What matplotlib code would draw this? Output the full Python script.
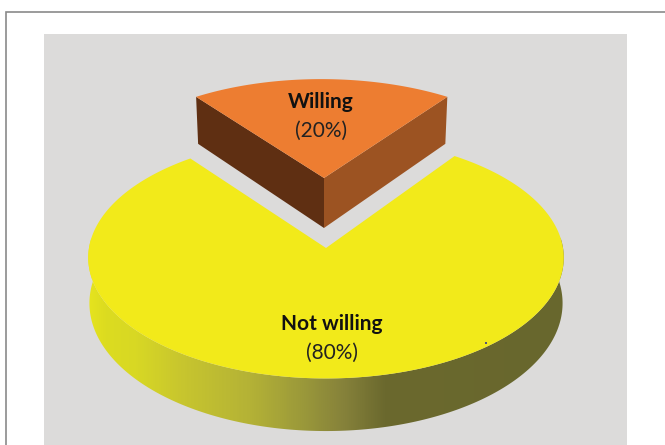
import numpy as np
import matplotlib
matplotlib.use('Agg')
import matplotlib.pyplot as plt
from matplotlib.colors import LinearSegmentedColormap
from matplotlib.patches import Polygon, Rectangle

labels = ['Willing', 'Not willing']
shares = [20, 80]

# the picture is laid out in pixels, y pointing down
cx, cy = 326, 248
A, B, k = 237, 120, 0.08
depth = 45
B_low = 127
# the small slice is pulled back and looks a bit smaller
pull_x, pull_y = -2, -70
scale_x, scale_y = 0.96, 0.89
shear = 0.025

yellow = '#f2ea1a'
orange = '#ed7d31'
dark_brown = '#5f2f12'
mid_brown = '#9c5322'
panel = '#dcdbda'
border = '#8a8a8a'

wall_x = [88, 105, 135, 180, 250, 300, 345, 385, 565]
wall_c = ['#e6e41e', '#dcdc20', '#d8d824', '#c8c62e', '#b4b236', '#9c9a3a', '#85813a', '#6b692e', '#68672d']


def project(t, b=B, dy=0.0, r=1.0):
    t = np.radians(t)
    u, v = r * np.sin(t), r * np.cos(t)
    w = 1 + k * v
    return cx + A * u / w, cy + dy - b * v / w


def small(x, y):
    return cx + pull_x + (x - cx) * scale_x + (y - cy) * shear, cy + pull_y + (y - cy) * scale_y


half = 360 * shares[0] / sum(shares) / 2

fig = plt.figure(figsize=(6.65, 4.45), dpi=100)
ax = fig.add_axes([0, 0, 1, 1])
ax.set_xlim(0, 665)
ax.set_ylim(445, 0)
ax.axis('off')

ax.plot([6, 6, 665], [445, 12, 12], color=border, lw=1.2, solid_joinstyle='miter')
ax.add_patch(Rectangle((44, 34), 583, 420, fc=panel, ec='none'))

# big slice, side wall with the gradient
arc = np.linspace(85, 275, 200)
tx, ty = project(arc)
bx, by = project(arc, b=B_low, dy=depth)
bx = cx + (bx - cx) * 0.995
wall = Polygon(np.r_[np.c_[tx, ty], np.c_[bx, by][::-1]], fc='none', ec='none')
ax.add_patch(wall)
stops = [(x - wall_x[0]) / (wall_x[-1] - wall_x[0]) for x in wall_x]
cmap = LinearSegmentedColormap.from_list('wall', list(zip(stops, wall_c)))
im = ax.imshow(np.linspace(0, 1, 512)[None, :], cmap=cmap, aspect='auto',
               extent=(wall_x[0], wall_x[-1], 445, 200), zorder=2)
im.set_clip_path(wall)
ax.set_xlim(0, 665)
ax.set_ylim(445, 0)

# big slice, top
arc = np.linspace(half - 0.7, 360 - half - 1.5, 300)
tx, ty = project(arc)
ax.add_patch(Polygon(np.r_[[[cx, cy]], np.c_[tx, ty]], fc=yellow, ec='none', zorder=3))

# small slice: walls then top
lx, ly = small(*project(-half))
rx, ry = small(*project(half))
ax_, ay_ = small(cx, cy)
d_apex, d_corner = 50, 47
ax.add_patch(Polygon([[lx, ly], [ax_, ay_], [ax_, ay_ + d_apex], [lx + 2, ly + d_corner]],
                     fc=dark_brown, ec='none', zorder=4))
ax.add_patch(Polygon([[rx, ry], [ax_, ay_], [ax_, ay_ + d_apex], [rx - 2, ry + d_corner]],
                     fc=mid_brown, ec='none', zorder=4))
arc = np.linspace(-half, half, 100)
sx, sy = small(*project(arc))
ax.add_patch(Polygon(np.r_[[[ax_, ay_]], np.c_[sx, sy]], fc=orange, ec='none', zorder=5))

# speck on the original
ax.plot([486], [343], 's', ms=1.6, color='#55557a', mew=0, zorder=6)

font = ['Lato', 'DejaVu Sans']
label_pos = [(321, 102, 131), (332, 324, 353)]
for name, share, (x, y1, y2) in zip(labels, shares, label_pos):
    ax.text(x, y1, name, ha='center', va='center', fontsize=15, fontweight='bold',
            family=font, color='#111111', zorder=7)
    ax.text(x, y2, '(%d%%)' % share, ha='center', va='center', fontsize=15,
            family=font, color='#222222', zorder=7)

fig.savefig('out.png', dpi=100)
